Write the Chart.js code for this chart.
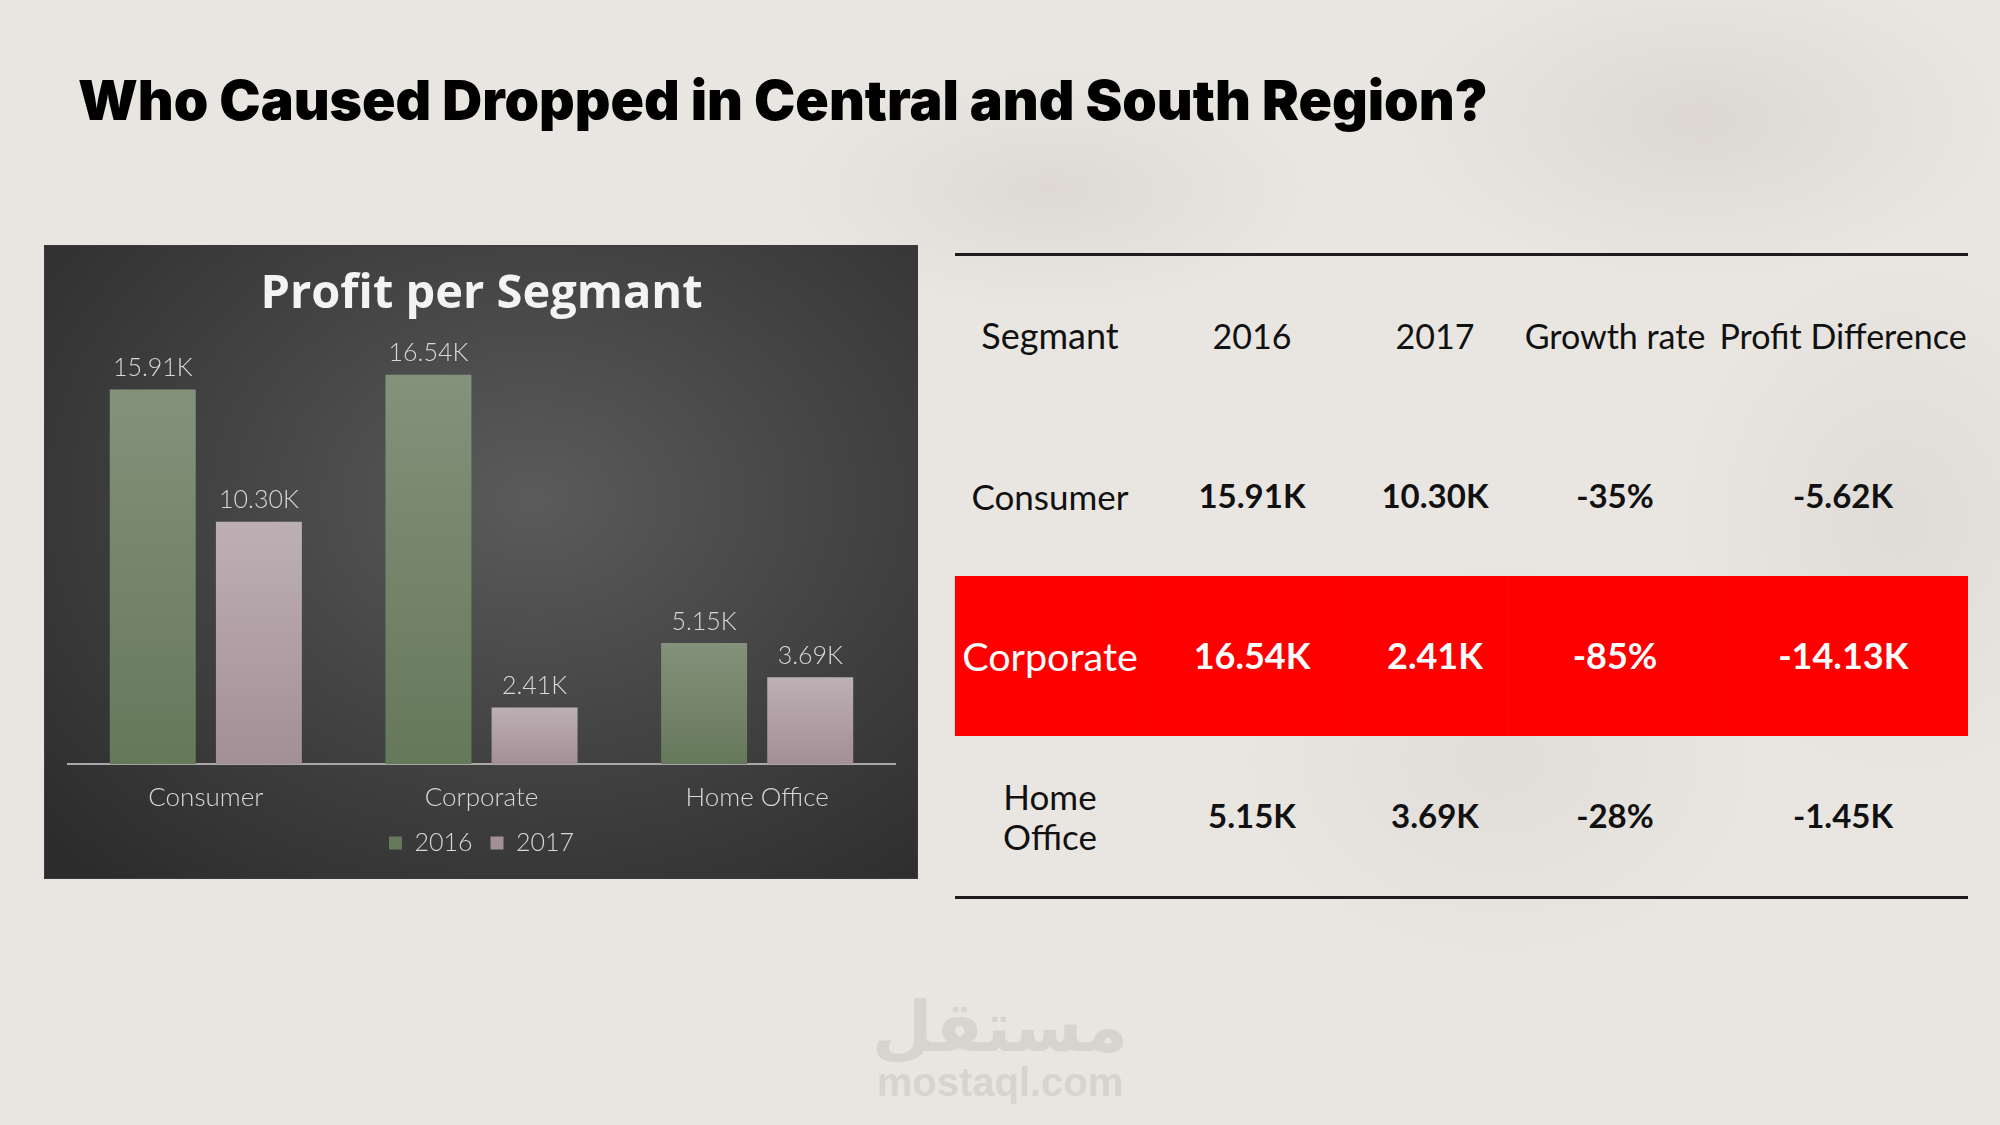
<!DOCTYPE html>
<html>
<head>
<meta charset="utf-8">
<script src="https://cdn.jsdelivr.net/npm/chart.js@4/dist/chart.umd.min.js"></script>
<style>
  html, body { margin: 0; padding: 0; }
  body {
    width: 2000px; height: 1125px; overflow: hidden; position: relative;
    background:
      radial-gradient(ellipse 260px 120px at 1050px 190px, rgba(200,192,188,0.35), rgba(200,192,188,0) 100%),
      radial-gradient(ellipse 300px 160px at 1700px 120px, rgba(196,188,184,0.35), rgba(196,188,184,0) 100%),
      radial-gradient(ellipse 220px 260px at 1900px 520px, rgba(200,194,190,0.3), rgba(200,194,190,0) 100%),
      radial-gradient(ellipse 260px 200px at 1500px 760px, rgba(205,199,195,0.3), rgba(205,199,195,0) 100%),
      #e9e6e1;
    font-family: Lato, "Open Sans", sans-serif;
  }
  #title {
    position: absolute; left: 78px; top: 66px; margin: 0;
    font-family: Inter, "Liberation Sans", sans-serif; font-weight: 900;
    font-size: 55.3px; letter-spacing: 0px; color: #000; white-space: nowrap;
  }
  #panel {
    position: absolute; left: 45px; top: 246px; width: 872px; height: 632px;
    background: radial-gradient(ellipse 75% 80% at 56% 40%, #5b5b5b 0%, #454545 45%, #2c2c2c 100%);
    box-shadow: 0 0 0 1px #3a3a3a;
  }
  #chart { display: block; }
  table {
    position: absolute; left: 954px; top: 253px; width: 1013px;
    border-collapse: collapse; table-layout: fixed;
    border-top: 3px solid #1c1c1c; border-bottom: 3px solid #1c1c1c;
  }
  td {
    height: 160px; padding: 0; text-align: center; vertical-align: middle;
    color: #111; font-size: 33px; font-weight: 700; line-height: 1.15;
  }
  tr.head td { font-weight: 400; font-size: 34px; }
  tr.head td:first-child { font-size: 36px; }
  td.name { font-weight: 400; font-size: 35px; }
  tr.hot td { background: #fe0000; color: #fff; font-size: 36px; border-left: 1px solid rgba(120,0,0,0.08); }
  tr.hot td.name { font-size: 39.5px; }
  #wm-ar {
    position: absolute; left: 0; width: 2000px; top: 992px; text-align: center;
    font-family: "DejaVu Sans", sans-serif; font-weight: 700; font-size: 70px;
    color: #d7d4cf; line-height: 1;
  }
  #wm-en {
    position: absolute; left: 0; width: 2000px; top: 1062px; text-align: center;
    font-family: "Liberation Sans", Arial, sans-serif; font-weight: 700; font-size: 40px;
    color: #d7d4cf; line-height: 1;
  }
</style>
</head>
<body>
<h1 id="title">Who Caused Dropped in Central and South Region?</h1>

<div id="panel"><canvas id="chart" width="872" height="632"></canvas></div>

<table id="tbl">
  <colgroup>
    <col style="width:191px"><col style="width:213px"><col style="width:153px"><col style="width:207px"><col style="width:249px">
  </colgroup>
  <tbody></tbody>
</table>

<div id="wm-ar">مستقل</div>
<div id="wm-en">mostaql.com</div>

<script>
const segments = ["Consumer", "Corporate", "Home Office"];
const years = ["2016", "2017"];
const profit2016 = [15.91, 16.54, 5.15];
const profit2017 = [10.30, 2.41, 3.69];
const growthRate = ["-35%", "-85%", "-28%"];
const profitDiff = [-5.62, -14.13, -1.45];
const headers = ["Segmant", "2016", "2017", "Growth rate", "Profit Difference"];
const highlightRow = "Corporate";

const fmtK = v => v.toFixed(2) + "K";

// table on the right
const tbody = document.querySelector("#tbl tbody");
const head = document.createElement("tr");
head.className = "head";
headers.forEach(h => {
  const td = document.createElement("td");
  td.textContent = h;
  head.appendChild(td);
});
tbody.appendChild(head);

segments.forEach((s, i) => {
  const tr = document.createElement("tr");
  if (s === highlightRow) tr.className = "hot";
  const cells = [s, fmtK(profit2016[i]), fmtK(profit2017[i]), growthRate[i], fmtK(profitDiff[i])];
  cells.forEach((c, j) => {
    const td = document.createElement("td");
    if (j === 0) {
      td.className = "name";
      td.innerHTML = c.replace(" ", "<br>");
    } else {
      td.textContent = c;
    }
    tr.appendChild(td);
  });
  tbody.appendChild(tr);
});

// bar fill, light at the top of each bar and darker at the base
function barFill(top, bottom) {
  return ctx => {
    const y = ctx.chart.scales && ctx.chart.scales.y;
    if (!y || typeof ctx.raw !== "number") return top;
    const y0 = y.getPixelForValue(ctx.raw);
    const y1 = y.getPixelForValue(0);
    if (!isFinite(y0) || !isFinite(y1) || y0 === y1) return top;
    const g = ctx.chart.ctx.createLinearGradient(0, y0, 0, y1);
    g.addColorStop(0, top);
    g.addColorStop(1, bottom);
    return g;
  };
}

const valueLabels = {
  id: "valueLabels",
  afterDatasetsDraw(chart) {
    const ctx = chart.ctx;
    ctx.save();
    ctx.font = "300 25px Lato";
    ctx.fillStyle = "#d8d8d8";
    ctx.textAlign = "center";
    ctx.textBaseline = "bottom";
    chart.data.datasets.forEach((ds, i) => {
      chart.getDatasetMeta(i).data.forEach((bar, j) => {
        ctx.fillText(fmtK(ds.data[j]), bar.x, bar.y - 9);
      });
    });
    ctx.restore();
  }
};

function draw() {
  new Chart(document.getElementById("chart"), {
    type: "bar",
    data: {
      labels: segments,
      datasets: [
        { label: years[0], data: profit2016, backgroundColor: barFill("#83927b", "#66785a") },
        { label: years[1], data: profit2017, backgroundColor: barFill("#bdb0b5", "#a38f96") }
      ]
    },
    options: {
      responsive: false,
      animation: false,
      devicePixelRatio: 1,
      categoryPercentage: 0.77,
      barPercentage: 0.81,
      layout: { padding: { left: 23, right: 22, top: 0, bottom: 12.6 } },
      plugins: {
        title: {
          display: true,
          text: "Profit per Segmant",
          color: "#f3f3f3",
          font: { family: "Open Sans", size: 47, weight: "bold" },
          padding: { top: 20, bottom: 18 }
        },
        legend: {
          position: "bottom",
          labels: {
            color: "#d8d8d8",
            font: { family: "Lato", size: 25, weight: 300 },
            boxWidth: 13,
            boxHeight: 13,
            padding: 18
          }
        },
        tooltip: { enabled: false }
      },
      scales: {
        x: {
          grid: { display: false, drawTicks: false },
          border: { display: true, color: "#a9a9a9", width: 2 },
          ticks: { color: "#d8d8d8", font: { family: "Lato", size: 26, weight: 300 }, padding: 17.5 },
          // keep the legend close under the category names
          afterFit: axis => { axis.height -= 18; }
        },
        y: { display: false, min: 0, max: 18 }
      }
    },
    plugins: [valueLabels]
  });
}

Promise.all([
  document.fonts.load("300 25px Lato"),
  document.fonts.load("400 25px Lato"),
  document.fonts.load("bold 47px 'Open Sans'")
]).then(draw, draw);
</script>
</body>
</html>
